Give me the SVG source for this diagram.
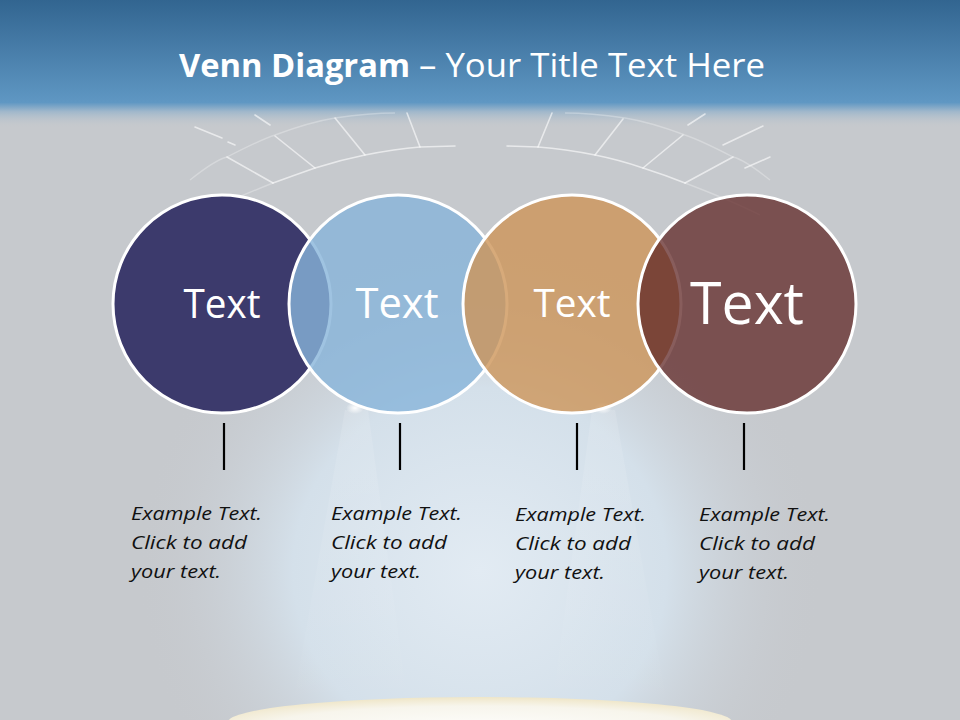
<svg xmlns="http://www.w3.org/2000/svg" width="960" height="720" viewBox="0 0 960 720">
<defs>
<linearGradient id="band" x1="0" y1="0" x2="0" y2="1">
<stop offset="0" stop-color="#326590"/>
<stop offset="0.8" stop-color="#5f97c3"/>
<stop offset="0.87" stop-color="#9fb7cb"/>
<stop offset="1" stop-color="#c6c9cd" stop-opacity="0"/>
</linearGradient>
<radialGradient id="glow" cx="0.5" cy="0.5" r="0.5">
<stop offset="0" stop-color="#e2ebf3"/>
<stop offset="0.55" stop-color="#d4e0ea"/>
<stop offset="1" stop-color="#c7cacf" stop-opacity="0"/>
</radialGradient>
<radialGradient id="plat" cx="0.5" cy="0.6" r="0.6">
<stop offset="0" stop-color="#fdfdfb"/>
<stop offset="0.7" stop-color="#f7f5ec"/>
<stop offset="1" stop-color="#efe6c8"/>
</radialGradient>
<radialGradient id="spot" cx="0.5" cy="0.5" r="0.5">
<stop offset="0" stop-color="#ffffff" stop-opacity="0.95"/>
<stop offset="1" stop-color="#ffffff" stop-opacity="0"/>
</radialGradient>
<linearGradient id="beam" x1="0" y1="0" x2="0" y2="1">
<stop offset="0" stop-color="#ffffff" stop-opacity="0.35"/>
<stop offset="1" stop-color="#ffffff" stop-opacity="0"/>
</linearGradient>
</defs>
<style>
.title{font-family:"Open Sans",Lato,"Liberation Sans",sans-serif;font-size:32px;fill:#ffffff}
.ctext{font-family:"Open Sans",Lato,"Liberation Sans",sans-serif;fill:#ffffff;text-anchor:middle}
.desc{font-family:"Open Sans",Lato,"Liberation Sans",sans-serif;font-style:italic;font-size:19px;fill:#111111}
.ring{stroke:#ffffff;stroke-width:3}
.deco{stroke:#ffffff;stroke-opacity:0.6;stroke-width:1.6;fill:none;stroke-linecap:round}
.decof{stroke:#ffffff;stroke-opacity:0.28;stroke-width:1.4;fill:none}
.conn{stroke:#000000;stroke-width:2.2}
</style>
<!-- background -->
<rect x="0" y="0" width="960" height="720" fill="#c6c9cd"/>
<ellipse cx="480" cy="570" rx="340" ry="330" fill="url(#glow)"/>
<path d="M345 410 L290 720 L410 720 L368 410 Z" fill="url(#beam)" opacity="0.35"/>
<path d="M592 410 L550 720 L670 720 L615 410 Z" fill="url(#beam)" opacity="0.35"/>
<ellipse cx="480" cy="722" rx="252" ry="25" fill="url(#plat)"/>
<rect x="0" y="0" width="960" height="128" fill="url(#band)"/>
<!-- decorative stage -->
<g id="stage">
<path class="decof" d="M190 180 Q215 160 227 157 Q260 140 275 135 Q310 122 335 118 Q370 113 395 113"/>
<path class="decof" d="M770 180 Q745 160 733 157 Q700 140 685 135 Q650 122 625 118 Q590 113 565 113"/>
<path class="deco" d="M273 183 Q295 175 315 168 Q340 160 365 155 Q395 149 420 147 L455 146"/>
<path class="deco" d="M685 183 Q665 175 643 168 Q620 160 595 155 Q565 149 538 147 L507 146"/>
<path class="decof" d="M273 183 Q230 200 200 215"/>
<path class="decof" d="M685 183 Q730 200 760 215"/>
<line class="deco" x1="227" y1="157" x2="273" y2="183"/>
<line class="deco" x1="275" y1="136" x2="315" y2="168"/>
<line class="deco" x1="335" y1="118" x2="365" y2="155"/>
<line class="deco" x1="407" y1="113" x2="420" y2="147"/>
<line class="deco" x1="733" y1="157" x2="685" y2="183"/>
<line class="deco" x1="683" y1="135" x2="643" y2="168"/>
<line class="deco" x1="623" y1="119" x2="595" y2="155"/>
<line class="deco" x1="552" y1="113" x2="538" y2="147"/>
<line class="deco" x1="255" y1="115" x2="270" y2="125"/>
<line class="deco" x1="195" y1="127" x2="222" y2="138"/>
<line class="deco" x1="228" y1="142" x2="235" y2="145"/>
<line class="deco" x1="705" y1="114" x2="688" y2="125"/>
<line class="deco" x1="763" y1="126" x2="723" y2="145"/>
<line class="deco" x1="770" y1="157" x2="745" y2="168"/>
</g>
<ellipse cx="355" cy="408" rx="9" ry="6" fill="url(#spot)"/>
<ellipse cx="603" cy="408" rx="9" ry="6" fill="url(#spot)"/>
<!-- title -->
<text class="title" x="179" y="77" font-weight="bold" textLength="231" lengthAdjust="spacingAndGlyphs">Venn Diagram</text>
<text class="title" x="419" y="77" textLength="346" lengthAdjust="spacingAndGlyphs">– Your Title Text Here</text>
<!-- connectors -->
<g id="connectors">
<line class="conn" x1="224" y1="423" x2="224" y2="470"/>
<line class="conn" x1="400" y1="423" x2="400" y2="470"/>
<line class="conn" x1="577" y1="423" x2="577" y2="470"/>
<line class="conn" x1="744" y1="423" x2="744" y2="470"/>
</g>
<!-- nodes -->
<g id="node1">
<circle class="ring" cx="222" cy="304" r="109" fill="#3c3a6c"/>
<text class="ctext" x="222" y="318" font-size="40" textLength="77" lengthAdjust="spacingAndGlyphs">Text</text>
</g>
<g id="node2">
<circle cx="398" cy="304" r="109" fill="#87b4da" fill-opacity="0.8" class="ring"/>
<text class="ctext" x="397" y="318" font-size="42" textLength="83" lengthAdjust="spacingAndGlyphs">Text</text>
</g>
<g id="node3">
<circle cx="572" cy="304" r="109" fill="#cd9559" fill-opacity="0.8" class="ring"/>
<text class="ctext" x="572" y="317" font-size="38" textLength="77" lengthAdjust="spacingAndGlyphs">Text</text>
</g>
<g id="node4">
<circle cx="747" cy="304" r="109" fill="#602725" fill-opacity="0.75" class="ring"/>
<text class="ctext" x="747" y="324" font-size="58" textLength="114" lengthAdjust="spacingAndGlyphs">Text</text>
</g>
<!-- descriptions -->
<g id="desc1">
<text class="desc" x="131" y="520" textLength="131" lengthAdjust="spacingAndGlyphs">Example Text.</text>
<text class="desc" x="131" y="549" textLength="116" lengthAdjust="spacingAndGlyphs">Click  to add</text>
<text class="desc" x="131" y="578" textLength="90" lengthAdjust="spacingAndGlyphs">your text.</text>
</g>
<g id="desc2">
<text class="desc" x="331" y="520" textLength="131" lengthAdjust="spacingAndGlyphs">Example Text.</text>
<text class="desc" x="331" y="549" textLength="116" lengthAdjust="spacingAndGlyphs">Click  to add</text>
<text class="desc" x="331" y="578" textLength="90" lengthAdjust="spacingAndGlyphs">your text.</text>
</g>
<g id="desc3">
<text class="desc" x="515" y="521" textLength="131" lengthAdjust="spacingAndGlyphs">Example Text.</text>
<text class="desc" x="515" y="550" textLength="116" lengthAdjust="spacingAndGlyphs">Click  to add</text>
<text class="desc" x="515" y="579" textLength="90" lengthAdjust="spacingAndGlyphs">your text.</text>
</g>
<g id="desc4">
<text class="desc" x="699" y="521" textLength="131" lengthAdjust="spacingAndGlyphs">Example Text.</text>
<text class="desc" x="699" y="550" textLength="116" lengthAdjust="spacingAndGlyphs">Click  to add</text>
<text class="desc" x="699" y="579" textLength="90" lengthAdjust="spacingAndGlyphs">your text.</text>
</g>
</svg>
